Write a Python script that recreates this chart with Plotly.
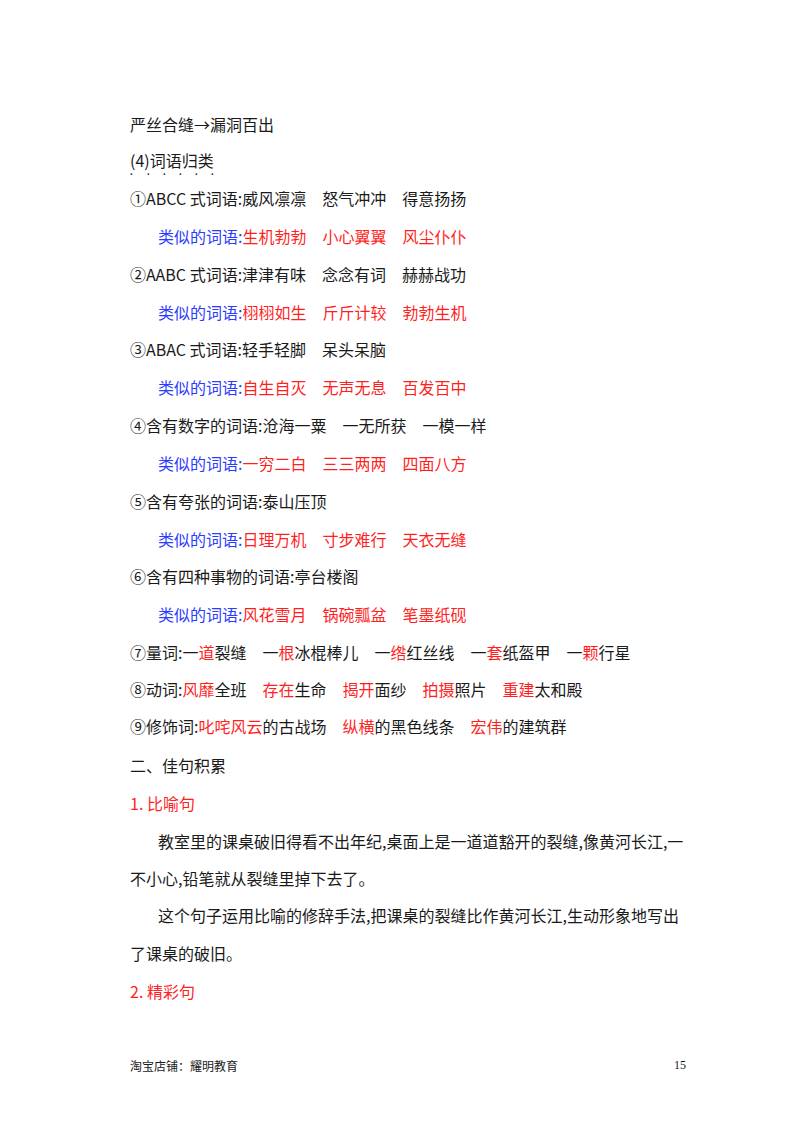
import plotly.graph_objects as go

K, B, R = "#1a1a1a", "#2b3cff", "#ff1f1f"
line_y = [116,152,190,228,266,304,341,379,417,455,493,531,568,606,644,681,718,757,795,833,870,907,945,983]
line_x = [120,120,120,148,120,148,120,148,120,148,120,148,120,148,120,120,120,120,120,148,120,148,120,120]
line_segments = [
 [("严丝合缝→漏洞百出",K)],
 [("(4)词语归类",K)],
 [("①ABCC 式词语:威风凛凛　怒气冲冲　得意扬扬",K)],
 [("类似的词语:",B),("生机勃勃　小心翼翼　风尘仆仆",R)],
 [("②AABC 式词语:津津有味　念念有词　赫赫战功",K)],
 [("类似的词语:",B),("栩栩如生　斤斤计较　勃勃生机",R)],
 [("③ABAC 式词语:轻手轻脚　呆头呆脑",K)],
 [("类似的词语:",B),("自生自灭　无声无息　百发百中",R)],
 [("④含有数字的词语:沧海一粟　一无所获　一模一样",K)],
 [("类似的词语:",B),("一穷二白　三三两两　四面八方",R)],
 [("⑤含有夸张的词语:泰山压顶",K)],
 [("类似的词语:",B),("日理万机　寸步难行　天衣无缝",R)],
 [("⑥含有四种事物的词语:亭台楼阁",K)],
 [("类似的词语:",B),("风花雪月　锅碗瓢盆　笔墨纸砚",R)],
 [("⑦量词:一",K),("道",R),("裂缝　一",K),("根",R),("冰棍棒儿　一",K),("绺",R),("红丝线　一",K),("套",R),("纸盔甲　一",K),("颗",R),("行星",K)],
 [("⑧动词:",K),("风靡",R),("全班　",K),("存在",R),("生命　",K),("揭开",R),("面纱　",K),("拍摄",R),("照片　",K),("重建",R),("太和殿",K)],
 [("⑨修饰词:",K),("叱咤风云",R),("的古战场　",K),("纵横",R),("的黑色线条　",K),("宏伟",R),("的建筑群",K)],
 [("二、佳句积累",K)],
 [("1. 比喻句",R)],
 [("教室里的课桌破旧得看不出年纪,桌面上是一道道豁开的裂缝,像黄河长江,一",K)],
 [("不小心,铅笔就从裂缝里掉下去了。",K)],
 [("这个句子运用比喻的修辞手法,把课桌的裂缝比作黄河长江,生动形象地写出",K)],
 [("了课桌的破旧。",K)],
 [("2. 精彩句",R)],
]
footer_left = "淘宝店铺：耀明教育"
page_number = "15"

W, H = 800, 1132
fig = go.Figure()
ann = []
for y, x, segs in zip(line_y, line_x, line_segments):
    txt = "".join(f"<span style='color:{c}'>{t}</span>" for t, c in segs)
    ann.append(dict(x=x/W, y=1-y/H, xref="paper", yref="paper", xanchor="left", yanchor="middle",
                    text=txt, showarrow=False, font=dict(size=16, family="Noto Sans CJK SC", color=K)))
# emphasis dots under 词语归类
for dx in [123,140,156,172,188,204]:
    ann.append(dict(x=dx/W, y=1-167/H, xref="paper", yref="paper", text="•", showarrow=False,
                    font=dict(size=7, color=K), xanchor="center", yanchor="middle"))
ann.append(dict(x=120/W, y=1-1057/H, xref="paper", yref="paper", xanchor="left", yanchor="middle",
                text=footer_left, showarrow=False, font=dict(size=12, family="Noto Sans CJK SC", color=K)))
ann.append(dict(x=680/W, y=1-1057/H, xref="paper", yref="paper", xanchor="right", yanchor="middle",
                text=page_number, showarrow=False, font=dict(size=12, family="Liberation Serif", color=K)))
fig.update_layout(width=W, height=H, margin=dict(l=0, r=0, t=0, b=0), paper_bgcolor="white",
                  plot_bgcolor="white", annotations=ann,
                  xaxis=dict(visible=False, range=[0, 1]), yaxis=dict(visible=False, range=[0, 1]))
fig.write_html("out.html")
